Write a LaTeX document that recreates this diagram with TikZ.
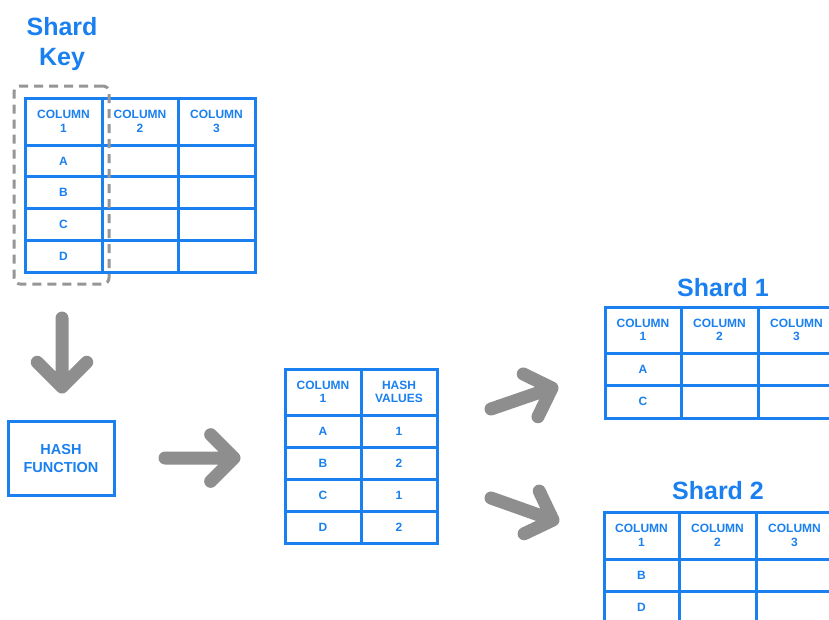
\documentclass[tikz,border=0pt]{standalone}
\usepackage{fontspec}
\setmainfont{Liberation Sans}
\usetikzlibrary{calc}
\definecolor{tblue}{RGB}{26,128,240}
\definecolor{agray}{RGB}{142,142,142}
\definecolor{dgray}{RGB}{150,150,150}
\begin{document}
\begin{tikzpicture}[x=1pt,y=-1pt,
  cell/.style={draw=tblue, line width=3pt, inner sep=0pt, align=center, text=tblue,
    font=\fontsize{12}{13.5}\selectfont\bfseries},
  title/.style={text=tblue, align=center, inner sep=0pt, anchor=base,
    font=\fontsize{25}{30}\selectfont\bfseries},
  keyframe/.style={draw=dgray, line width=3pt, dash pattern=on 9pt off 6pt,
    rounded corners=6pt, inner sep=0pt, minimum width=95pt, minimum height=198pt},
  hashbox/.style={draw=tblue, line width=3pt, inner sep=0pt, align=center, text=tblue,
    minimum width=106pt, minimum height=74pt, font=\fontsize{14.5}{18}\selectfont\bfseries},
  garrow/.style={draw=agray, line width=13pt, line cap=round, line join=round,
    to path={(\tikztostart) -- (\tikztotarget)
      ($(\tikztotarget)!#1!-45:(\tikztostart)$) -- (\tikztotarget)
      -- ($(\tikztotarget)!#1!45:(\tikztostart)$)}},
  garrow/.default=34pt]

\useasboundingbox (0,0) rectangle (829,619);
\clip (0,0) rectangle (829,619);
\fill[white] (0,0) rectangle (829,619);

% ---------- source table with the shard key column ----------
% (base anchor of a two-line node sits on its last line)
\node[title] (keytitle) at (62,65.5) {Shard\\Key};
\node[cell, minimum width=77pt, minimum height=47pt] (k11) at (63.5,121.5) {COLUMN\\1};
\node[cell, minimum width=76pt, minimum height=47pt] (k12) at (140,121.5) {COLUMN\\2};
\node[cell, minimum width=77pt, minimum height=47pt] (k13) at (216.5,121.5) {COLUMN\\3};
\foreach \r/\y/\v in {2/160.875/A, 3/192.625/B, 4/224.375/C, 5/256.125/D}{
  \node[cell, minimum width=77pt, minimum height=31.75pt] (k\r1) at (63.5,\y) {\v};
  \node[cell, minimum width=76pt, minimum height=31.75pt] (k\r2) at (140,\y) {};
  \node[cell, minimum width=77pt, minimum height=31.75pt] (k\r3) at (216.5,\y) {};
}
\node[keyframe] (keyframe) at (61.5,185) {};

% ---------- hash function ----------
\node[hashbox] (hash) at (61,458) {HASH\\FUNCTION};

% ---------- hash values table ----------
\node[cell, minimum width=76pt, minimum height=46pt] (h11) at (323,392) {COLUMN\\1};
\node[cell, minimum width=76pt, minimum height=46pt] (h12) at (399,392) {HASH\\VALUES};
\foreach \r/\y/\v/\w in {2/431/A/1, 3/463/B/2, 4/495/C/1, 5/527/D/2}{
  \node[cell, minimum width=76pt, minimum height=32pt] (h\r1) at (323,\y) {\v};
  \node[cell, minimum width=76pt, minimum height=32pt] (h\r2) at (399,\y) {\w};
}

% ---------- shard 1 ----------
\node[title] (s1title) at (723,296) {Shard 1};
\node[cell, minimum width=76pt, minimum height=46pt] (s11) at (643,330) {COLUMN\\1};
\node[cell, minimum width=77pt, minimum height=46pt] (s12) at (719.5,330) {COLUMN\\2};
\node[cell, minimum width=77pt, minimum height=46pt] (s13) at (796.5,330) {COLUMN\\3};
\foreach \r/\y/\v in {2/369.25/A, 3/401.75/C}{
  \node[cell, minimum width=76pt, minimum height=32.5pt] (s\r1) at (643,\y) {\v};
  \node[cell, minimum width=77pt, minimum height=32.5pt] (s\r2) at (719.5,\y) {};
  \node[cell, minimum width=77pt, minimum height=32.5pt] (s\r3) at (796.5,\y) {};
}

% ---------- shard 2 ----------
\node[title] (s2title) at (718,499) {Shard 2};
\node[cell, minimum width=75pt, minimum height=47pt] (t11) at (641.5,535.5) {COLUMN\\1};
\node[cell, minimum width=77pt, minimum height=47pt] (t12) at (717.5,535.5) {COLUMN\\2};
\node[cell, minimum width=77pt, minimum height=47pt] (t13) at (794.5,535.5) {COLUMN\\3};
\foreach \r/\y/\v in {2/575/B, 3/607/D}{
  \node[cell, minimum width=75pt, minimum height=32pt] (t\r1) at (641.5,\y) {\v};
  \node[cell, minimum width=77pt, minimum height=32pt] (t\r2) at (717.5,\y) {};
  \node[cell, minimum width=77pt, minimum height=32pt] (t\r3) at (794.5,\y) {};
}

% ---------- arrows ----------
\coordinate (downA) at (62,318);
\coordinate (downB) at (62,387);
\coordinate (rightA) at (165,458);
\coordinate (rightB) at (234,458);
\coordinate (upA) at (491,409);
\coordinate (upB) at (552,388);
\coordinate (lowA) at (491,498);
\coordinate (lowB) at (553,520);
\draw[garrow=35pt] (downA) to (downB);
\draw[garrow=33pt] (rightA) to (rightB);
\draw[garrow=32pt] (upA) to (upB);
\draw[garrow=32pt] (lowA) to (lowB);
\end{tikzpicture}
\end{document}
